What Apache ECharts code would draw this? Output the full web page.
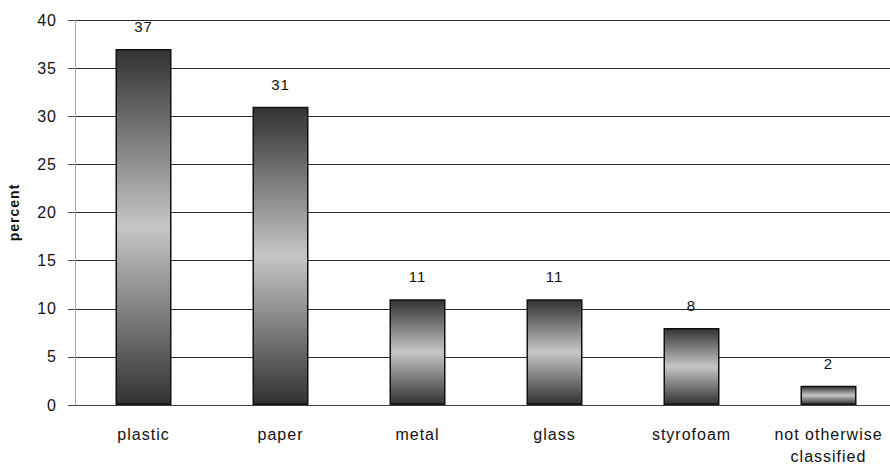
<!DOCTYPE html>
<html>
<head>
<meta charset="utf-8">
<script src="https://cdn.jsdelivr.net/npm/echarts@6/dist/echarts.min.js"></script>
<style>
  html, body { margin: 0; padding: 0; background: #fff; }
  #chart { width: 890px; height: 467px; }
  /* slightly open letter spacing on all chart text */
  #chart svg text { letter-spacing: 1px; }
</style>
</head>
<body>
<div id="chart"></div>
<script>
// Waste composition by material
const categories = ['plastic', 'paper', 'metal', 'glass', 'styrofoam', 'not otherwise\nclassified'];
const percentValues = [37, 31, 11, 11, 8, 2];
const yTicks = [0, 5, 10, 15, 20, 25, 30, 35, 40];

const FONT = '"Liberation Sans", Arial, sans-serif';

// dark at the ends, light in the middle of each bar
const barFill = new echarts.graphic.LinearGradient(0, 0, 0, 1, [
  { offset: 0, color: '#323232' },
  { offset: 0.5, color: '#c6c6c6' },
  { offset: 1, color: '#323232' }
]);

const chart = echarts.init(document.getElementById('chart'), null, { renderer: 'svg' });
chart.setOption({
  animation: false,
  backgroundColor: '#ffffff',
  grid: {
    left: 75, top: 20, width: 822, height: 385,
    containLabel: false,
    outerBoundsMode: 'none'
  },
  xAxis: {
    type: 'category',
    data: categories,
    axisLine: { show: true, lineStyle: { color: '#444', width: 1 } },
    axisTick: { show: false },
    axisLabel: { color: '#111', fontFamily: FONT, fontSize: 16, margin: 18, lineHeight: 22 }
  },
  yAxis: {
    type: 'value',
    min: yTicks[0],
    max: yTicks[yTicks.length - 1],
    interval: 5,
    name: 'percent',
    nameLocation: 'middle',
    nameGap: 54,
    nameTextStyle: { fontFamily: FONT, fontSize: 14, fontWeight: 'bold', color: '#111' },
    axisLine: { show: true, lineStyle: { color: '#aaa', width: 1 } },
    axisTick: { show: true, length: 7, lineStyle: { color: '#444' } },
    axisLabel: { color: '#111', fontFamily: FONT, fontSize: 16, margin: 18 },
    splitLine: { show: true, lineStyle: { color: '#2a2a2a', width: 1 } }
  },
  series: [{
    type: 'bar',
    data: percentValues,
    barWidth: 56,
    itemStyle: { color: barFill, borderColor: '#111', borderWidth: 1.5 },
    label: {
      show: true,
      position: 'top',
      distance: 15,
      color: '#111',
      fontFamily: FONT,
      fontSize: 15
    }
  }]
});
</script>
</body>
</html>
